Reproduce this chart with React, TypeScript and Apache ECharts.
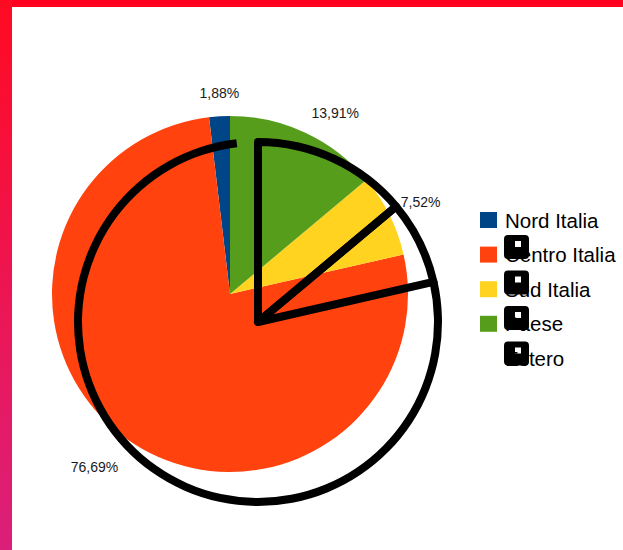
import React, { useEffect, useRef } from "react";
import * as echarts from "echarts";

const categories = ["Nord Italia", "Centro Italia", "Sud Italia", "Paese", "Estero"];
const values = [1.88, 76.69, 7.52, 13.91, 0];
const colors = ["#004586", "#ff420e", "#ffd320", "#579d1c", "rgba(0,0,0,0)"];
const outlinedWedges = ["Sud Italia", "Paese"];
const outlinedArc = ["Centro Italia"];

const FONT = "'Liberation Sans', Arial, sans-serif";
const CX = 230;
const CY = 294;
const R = 178;
const OCX = 258;
const OCY = 322;
const OR = 180;
// small per-label nudges (style), in px
const labelNudge = [
  [2, 0],
  [-10, 9],
  [-1, -3],
  [13, 1],
  [0, 0],
];
const boxIcon =
  "path://M4,0 H21 Q25,0 25,4 V20 Q25,24 21,24 H4 Q0,24 0,20 V4 Q0,0 4,0 Z M11,6 V12 H17 V6 Z";

function fmt(v: number) {
  return v.toFixed(2).replace(".", ",") + "%";
}

export default function App() {
  const ref = useRef<HTMLDivElement>(null);
  useEffect(() => {
    if (!ref.current) return;
    const chart = echarts.init(ref.current, null, { renderer: "svg" });
    const total = values.reduce((a, b) => a + b, 0);
    const option: any = {
      animation: false,
      backgroundColor: "#ffffff",
      graphic: [
        { type: "rect", shape: { x: 0, y: 0, width: 623, height: 7 }, style: { fill: "#ff0020" }, silent: true },
        {
          type: "rect",
          shape: { x: 0, y: 0, width: 12, height: 550 },
          style: {
            fill: new echarts.graphic.LinearGradient(0, 0, 0, 1, [
              { offset: 0, color: "#ff0a22" },
              { offset: 0.5, color: "#ee1550" },
              { offset: 1, color: "#da1f7a" },
            ]),
          },
          silent: true,
        },
      ],
      legend: [
        {
          orient: "vertical",
          left: 475,
          top: 202,
          itemWidth: 17,
          itemHeight: 16,
          itemGap: 8.6,
          icon: "rect",
          selectedMode: false,
          data: categories.map((c, i) =>
            values[i] > 0 ? c : { name: c, itemStyle: { opacity: 0 } }
          ),
          textStyle: { fontFamily: FONT, fontSize: 20.5, lineHeight: 20, color: "#000", padding: [6, 0, 0, 3] },
        },
        {
          orient: "vertical",
          left: 499,
          top: 230,
          itemWidth: 25,
          itemHeight: 24,
          itemGap: 11.5,
          icon: boxIcon,
          selectedMode: false,
          data: categories.slice(0, 4),
          itemStyle: { color: "#000" },
          textStyle: { fontSize: 8, color: "rgba(0,0,0,0)" },
        },
      ],
      series: [
        {
          type: "pie",
          center: [CX, CY],
          radius: R,
          startAngle: 90,
          clockwise: false,
          silent: true,
          data: categories.map((c, i) => ({
            name: c,
            value: values[i],
            itemStyle: { color: colors[i] },
            label: { show: values[i] > 0 },
          })),
          label: {
            position: "outside",
            formatter: (p: any) => fmt(p.value),
            fontFamily: FONT,
            fontSize: 14,
            color: "#1a1a1a",
          },
          labelLine: { show: false },
          labelLayout: (params: any) => {
            const i = params.dataIndex;
            if (!(values[i] > 0)) return {};
            const cum = values.slice(0, i).reduce((a, b) => a + b, 0);
            const th = ((cum + values[i] / 2) / total) * Math.PI * 2;
            const dx = -Math.sin(th);
            const dy = -Math.cos(th);
            const w = params.labelRect.width;
            const h = params.labelRect.height;
            const r0 = 194;
            return {
              x: CX + dx * r0 + (dx * w) / 2 + labelNudge[i][0],
              y: CY + dy * r0 + (dy * h) / 2 + labelNudge[i][1],
              align: "center",
              verticalAlign: "middle",
            };
          },
        },
        {
          type: "pie",
          center: [OCX, OCY],
          radius: OR,
          startAngle: 90,
          clockwise: false,
          silent: true,
          label: { show: false },
          labelLine: { show: false },
          data: categories.map((c, i) => ({
            name: c,
            value: values[i],
            itemStyle: outlinedWedges.includes(c)
              ? { color: "rgba(0,0,0,0)", borderColor: "#000", borderWidth: 8, borderJoin: "round" }
              : { color: "rgba(0,0,0,0)", borderWidth: 0 },
          })),
        },
        {
          type: "pie",
          center: [OCX, OCY],
          radius: [OR - 4, OR + 4],
          startAngle: 90,
          clockwise: false,
          silent: true,
          label: { show: false },
          labelLine: { show: false },
          data: categories.map((c, i) => ({
            name: c,
            value: values[i],
            itemStyle: { color: outlinedArc.includes(c) ? "#000" : "rgba(0,0,0,0)", borderWidth: 0 },
          })),
        },
      ],
    };
    chart.setOption(option);
    return () => chart.dispose();
  }, []);
  return (
    <div
      ref={ref}
      style={{ position: "absolute", left: 0, top: 0, width: 623, height: 550 }}
    />
  );
}
